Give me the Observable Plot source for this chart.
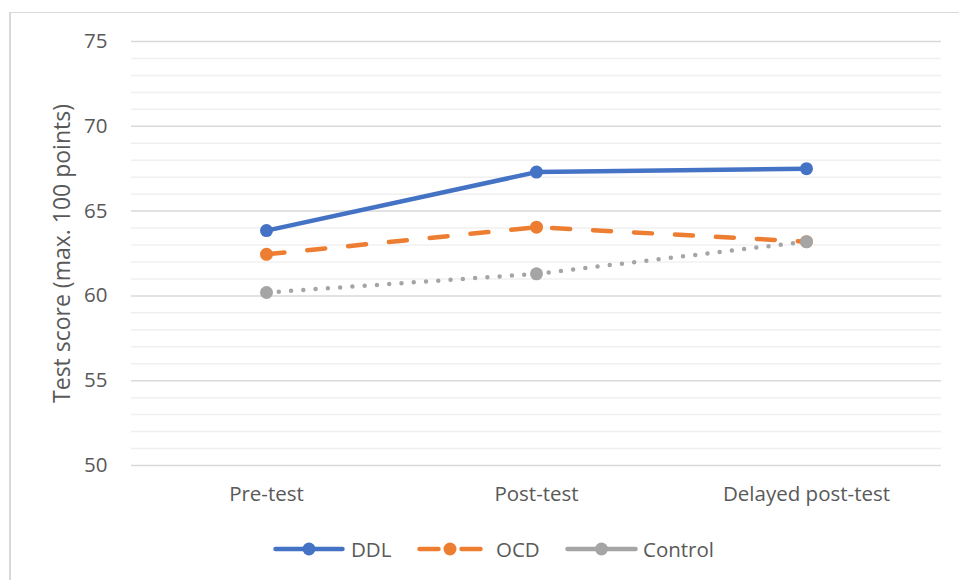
<!DOCTYPE html>
<html><head><meta charset="utf-8">
<script src="https://cdn.jsdelivr.net/npm/d3@7"></script>
<script src="https://cdn.jsdelivr.net/npm/@observablehq/plot@0.6"></script>
<style>
body{margin:0;background:#fff;font-family:"Open Sans",sans-serif;}
#wrap{position:relative;width:959px;height:580px;overflow:hidden;background:#fff;}
#frame{position:absolute;left:9px;top:12px;width:980px;height:600px;border-left:2px solid #d9d9d9;border-top:1px solid #d9d9d9;box-sizing:border-box;}
#chart{position:absolute;left:0;top:0;}
#legend{position:absolute;top:537px;left:0;width:959px;height:24px;color:#595959;font-size:20.5px;}
#legend svg{position:absolute;top:2px;display:block;}
#legend span{position:absolute;top:-2px;line-height:28px;white-space:nowrap;}
</style></head>
<body>
<div id="wrap"><div id="frame"></div><div id="chart"></div><div id="legend"></div></div>
<script>
const categories = ["Pre-test", "Post-test", "Delayed post-test"];
const seriesNames = ["DDL", "OCD", "Control"];
const ddl = [63.85, 67.3, 67.5];
const ocd = [62.45, 64.05, 63.2];
const control = [60.2, 61.3, 63.2];
const colors = ["#4472C4", "#ED7D31", "#A5A5A5"];
const dashes = [null, "18,23", "0,12.3"];
const yTicks = [50, 55, 60, 65, 70, 75];
const yMinorTicks = d3.range(50, 76).filter(v => v % 5 !== 0);
const yTitle = "Test score (max. 100 points)";

const seriesValues = [ddl, ocd, control];
const rows = [];
seriesNames.forEach((s, i) => categories.forEach((c, j) => rows.push({series: s, cat: c, value: seriesValues[i][j]})));

const seriesMarks = [];
seriesNames.forEach((s, i) => {
  const d = rows.filter(r => r.series === s);
  seriesMarks.push(Plot.line(d, {x: "cat", y: "value", stroke: colors[i], strokeWidth: 4.5,
    strokeDasharray: dashes[i] || undefined, strokeLinecap: "round", strokeLinejoin: "round"}));
  seriesMarks.push(Plot.dot(d, {x: "cat", y: "value", r: 6.5, fill: colors[i], stroke: "none"}));
});

const chart = Plot.plot({
  width: 959, height: 520,
  marginLeft: 131, marginRight: 18, marginTop: 41, marginBottom: 55,
  style: {color: "#595959", fontFamily: "'Open Sans', sans-serif", background: "transparent", overflow: "visible"},
  x: {type: "point", domain: categories, padding: 0.5},
  y: {domain: [50, 75]},
  marks: [
    Plot.ruleY(yMinorTicks, {stroke: "#f0f0f0", strokeWidth: 1.5}),
    Plot.ruleY(yTicks, {stroke: "#d9d9d9", strokeWidth: 1.5}),
    Plot.axisY({ticks: yTicks, tickSize: 0, tickPadding: 24, fontSize: 20.5, label: null}),
    Plot.axisX({tickSize: 0, tickPadding: 21, fontSize: 20.5, label: null}),
    Plot.text([yTitle], {text: d => d, frameAnchor: "left", rotate: -90, dx: -69, textAnchor: "middle", lineAnchor: "middle", fontSize: 23, fill: "#595959"}),
    ...seriesMarks
  ]
});
document.getElementById("chart").appendChild(chart);

// legend
const legend = document.getElementById("legend");
const swLeft = [273, 417, 565];
const swW = [72, 66, 73];
const textLeft = [351, 496, 643];
const ns = "http://www.w3.org/2000/svg";
seriesNames.forEach((s, i) => {
  const w = swW[i];
  const svg = document.createElementNS(ns, "svg");
  svg.setAttribute("width", w); svg.setAttribute("height", 20);
  svg.style.left = swLeft[i] + "px";
  const line = document.createElementNS(ns, "line");
  line.setAttribute("x1", 2.5); line.setAttribute("x2", w - 2.5);
  line.setAttribute("y1", 10); line.setAttribute("y2", 10);
  line.setAttribute("stroke", colors[i]); line.setAttribute("stroke-width", 4.5);
  line.setAttribute("stroke-linecap", "round");
  if (i === 1) line.setAttribute("stroke-dasharray", "19,23");
  svg.appendChild(line);
  const c = document.createElementNS(ns, "circle");
  c.setAttribute("cx", w / 2); c.setAttribute("cy", 10); c.setAttribute("r", 6.5);
  c.setAttribute("fill", colors[i]);
  svg.appendChild(c);
  legend.appendChild(svg);
  const t = document.createElement("span");
  t.textContent = s;
  t.style.left = textLeft[i] + "px";
  legend.appendChild(t);
});
</script>
</body></html>
